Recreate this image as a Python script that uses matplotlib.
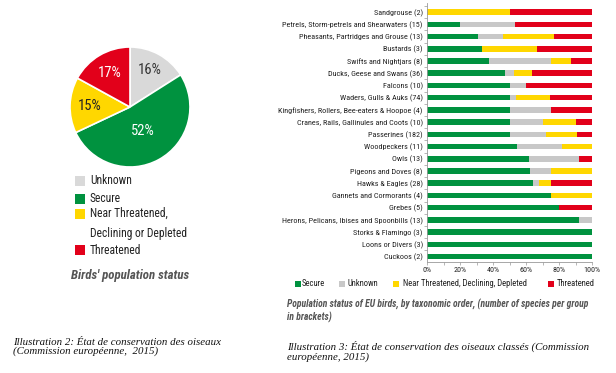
import matplotlib
matplotlib.use("Agg")
import matplotlib.pyplot as plt
from matplotlib.patches import Rectangle
import numpy as np

SANS = ["Roboto Condensed", "DejaVu Sans"]
SERIF = ["Liberation Serif", "DejaVu Serif"]
plt.rcParams['font.family'] = SANS

# ---------------- data ----------------
pie_labels = ["Unknown", "Secure", "Near Threatened,\nDeclining or Depleted", "Threatened"]
pie_values = [16, 52, 15, 17]
pie_colors = ["#D9D9D9", "#00923F", "#FFD700", "#E2001A"]

groups = [
    "Sandgrouse (2)",
    "Petrels, Storm-petrels and Shearwaters (15)",
    "Pheasants, Partridges and Grouse (13)",
    "Bustards (3)",
    "Swifts and Nightjars (8)",
    "Ducks, Geese and Swans (36)",
    "Falcons (10)",
    "Waders, Gulls & Auks (74)",
    "Kingfishers, Rollers, Bee-eaters & Hoopoe (4)",
    "Cranes, Rails, Gallinules and Coots (10)",
    "Passerines (182)",
    "Woodpeckers (11)",
    "Owls (13)",
    "Pigeons and Doves (8)",
    "Hawks & Eagles (28)",
    "Gannets and Cormorants (4)",
    "Grebes (5)",
    "Herons, Pelicans, Ibises and Spoonbills (13)",
    "Storks & Flamingo (3)",
    "Loons or Divers (3)",
    "Cuckoos (2)",
]
# species counts per status
secure =     [0, 3, 4, 1, 3, 17, 5, 37, 2, 5, 91, 6, 8, 5, 18, 3, 4, 12, 3, 3, 2]
unknown =    [0, 5, 2, 0, 3, 2, 1, 3, 1, 2, 40, 3, 4, 1, 1, 0, 0, 1, 0, 0, 0]
near =       [1, 0, 4, 1, 1, 4, 0, 15, 0, 2, 34, 2, 0, 2, 2, 1, 0, 0, 0, 0, 0]
threatened = [1, 7, 3, 1, 1, 13, 4, 19, 1, 1, 17, 0, 1, 0, 7, 0, 1, 0, 0, 0, 0]
bar_series = ["Secure", "Unknown", "Near Threatened, Declining, Depleted", "Threatened"]
bar_colors = ["#00923F", "#C8C8C8", "#FFD700", "#E2001A"]
xticks = [0, 20, 40, 60, 80, 100]

W, H = 616, 373
fig = plt.figure(figsize=(W / 100, H / 100), dpi=100)

def px_axes(x0, y0, x1, y1):
    return fig.add_axes([x0 / W, 1 - y1 / H, (x1 - x0) / W, (y1 - y0) / H])

def fx(x):
    return x / W

def fy(y):
    return 1 - y / H

def key(x, y, s, color):
    fig.patches.append(Rectangle((fx(x), fy(y + s / 2)), s / W, s / H, facecolor=color,
                                 edgecolor="none", transform=fig.transFigure, figure=fig))

# ---------------- pie ----------------
r = 60
axp = px_axes(130 - r, 107 - r, 130 + r, 107 + r)
axp.pie(pie_values, colors=pie_colors, startangle=90, counterclock=False,
        radius=1.0, wedgeprops=dict(edgecolor="white", linewidth=1.2))
axp.set_xlim(-1, 1); axp.set_ylim(-1, 1)
axp.set_aspect("equal")
label_colors = ["#333333", "white", "#222222", "white"]
label_r = [0.70, 0.45, 0.67, 0.66]
cum = 0
for v, c, rr in zip(pie_values, label_colors, label_r):
    mid = 90 - (cum + v / 2) * 3.6
    cum += v
    axp.text(rr * np.cos(np.radians(mid)), rr * np.sin(np.radians(mid)), f"{v}%",
             ha="center", va="center", color=c, fontsize=10.5)

# pie legend (manual)
pie_leg_y = [181, 199, 214, 250]
for lab, c, yy in zip(pie_labels, pie_colors, pie_leg_y):
    key(75, yy, 10, c)
    multi = "\n" in lab
    fig.text(fx(90), fy(yy - 7) if multi else fy(yy), lab, ha="left",
             va="top" if multi else "center",
             fontsize=8.3, color="#222222", linespacing=1.75)

fig.text(fx(130), fy(275), "Birds' population status", ha="center", va="center",
         fontsize=9.3, style="italic", weight="bold", color="#555555")

fig.text(fx(13), fy(347), "Illustration 2: État de conservation des oiseaux\n(Commission européenne,  2015)",
         ha="left", va="center", fontsize=7.8, style="italic", family=SERIF,
         linespacing=1.05, color="#111111")

# ---------------- stacked bars ----------------
axb = px_axes(427, 3, 592, 262)
tot = np.array(secure) + np.array(unknown) + np.array(near) + np.array(threatened)
y = np.arange(len(groups))
left = np.zeros(len(groups))
for vals, c, name in zip([secure, unknown, near, threatened], bar_colors, bar_series):
    pct = np.array(vals) / tot * 100
    axb.barh(y, pct, left=left, color=c, height=0.45, label=name)
    left += pct
axb.set_xlim(0, 100)
axb.set_ylim(20.45, -0.75)
axb.set_yticks(y)
axb.set_yticklabels(groups, fontsize=5.85, color="#222222")
axb.set_yticks(np.arange(-0.5, 20.5, 1), minor=True)
axb.set_xticks(xticks)
axb.set_xticklabels([f"{t}%" for t in xticks], fontsize=5.8, color="#222222")
axb.set_xticks(np.arange(0, 101, 10), minor=True)
for s in ["top", "right"]:
    axb.spines[s].set_visible(False)
for s in ["left", "bottom"]:
    axb.spines[s].set_color("#999999")
    axb.spines[s].set_linewidth(0.6)
axb.tick_params(axis="both", which="both", length=2, width=0.5, color="#999999", pad=1.5)
axb.tick_params(axis="y", which="major", length=0, pad=3)

# bar legend (manual)
leg_key_x = [295, 339, 393, 548]
leg_txt_x = [302, 348, 403, 557]
for lab, c, kx, tx in zip(bar_series, bar_colors, leg_key_x, leg_txt_x):
    key(kx, 284, 6, c)
    fig.text(fx(tx), fy(284), lab, ha="left", va="center", fontsize=6.2, color="#222222")

fig.text(fx(287), fy(311),
         "Population status of EU birds, by taxonomic order, (number of species per group\nin brackets)",
         ha="left", va="center", fontsize=6.9, style="italic", weight="bold", color="#555555",
         linespacing=1.2)
fig.text(fx(287), fy(351),
         "Illustration 3: État de conservation des oiseaux classés (Commission\neuropéenne, 2015)",
         ha="left", va="center", fontsize=7.8, style="italic", family=SERIF,
         linespacing=1.05, color="#111111")

fig.savefig("out.png", dpi=100, facecolor="white")
